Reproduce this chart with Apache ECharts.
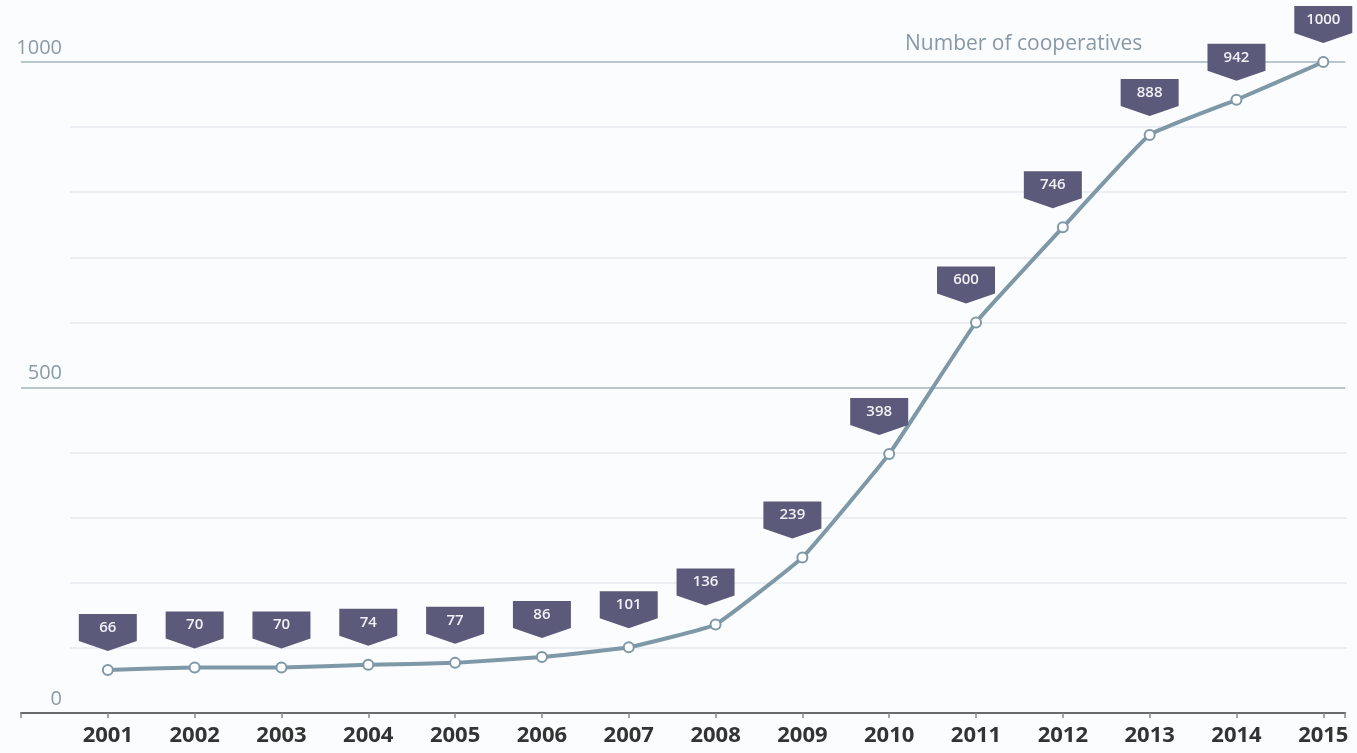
<!DOCTYPE html>
<html>
<head>
<meta charset="utf-8">
<script src="https://cdn.jsdelivr.net/npm/echarts@6/dist/echarts.min.js"></script>
<style>
html,body{margin:0;padding:0;background:#fbfcfd;}
#chart{width:1357px;height:753px;}
</style>
</head>
<body>
<div id="chart"></div>
<script>
const years = [2001, 2002, 2003, 2004, 2005, 2006, 2007, 2008, 2009, 2010, 2011, 2012, 2013, 2014, 2015];
const cooperatives = [66, 70, 70, 74, 77, 86, 101, 136, 239, 398, 600, 746, 888, 942, 1000];
const yLabelTicks = [0, 500, 1000];
const seriesName = 'Number of cooperatives';

const lineColor = '#7e98a8';
const flagColor = '#5c5a7a';
const font = '"Open Sans", "Noto Sans", sans-serif';

const points = years.map((y, i) => [y, cooperatives[i]]);
// flags shift left where the line climbs steeply, to keep them clear of it
const flagData = points.map((p, i) => {
  const next = i < cooperatives.length - 1 ? cooperatives[i + 1] : cooperatives[i];
  const steep = next - cooperatives[i] > 100;
  return { value: p, symbolOffset: [steep ? -10 : 0, -37.5] };
});

const chart = echarts.init(document.getElementById('chart'));
chart.setOption({
  backgroundColor: '#fbfcfd',
  animation: false,
  title: {
    text: seriesName,
    left: 900, top: 29,
    textStyle: { color: '#8898a6', fontSize: 21, fontWeight: 'normal', fontFamily: font }
  },
  grid: [
    { left: 21, right: 12, top: 62, bottom: 40 },
    { left: 70, right: 10, top: 62, bottom: 40 }
  ],
  xAxis: [
    {
      type: 'value', gridIndex: 0, min: 2000, max: 2015.25, interval: 1,
      axisLine: { show: true, lineStyle: { color: '#6a6a6a', width: 2 } },
      axisTick: { show: true, length: 5, lineStyle: { color: '#888', width: 1.5 } },
      splitLine: { show: false },
      axisLabel: {
        margin: 12, fontSize: 22, fontWeight: 'bold', color: '#333', fontFamily: font,
        formatter: v => (years.indexOf(v) >= 0 ? String(v) : '')
      }
    },
    { type: 'value', gridIndex: 1, min: 2000, max: 2015.25, show: false }
  ],
  yAxis: [
    {
      type: 'value', gridIndex: 1, min: 0, max: 1000, interval: 100,
      axisLine: { show: false }, axisTick: { show: false }, axisLabel: { show: false },
      splitLine: { show: true, lineStyle: { color: '#e6eaee', width: 1.5 } }
    },
    {
      type: 'value', gridIndex: 0, min: 0, max: 1000, interval: 500,
      axisLine: { show: false }, axisTick: { show: false },
      splitLine: { show: true, showMinLine: false, lineStyle: { color: '#b8c6ce', width: 2 } },
      axisLabel: {
        inside: true, align: 'right', margin: 41, verticalAlign: 'bottom', padding: [0, 0, 4, 0],
        fontSize: 20, color: '#8a9aa8', fontFamily: font,
        formatter: v => (yLabelTicks.indexOf(v) >= 0 ? String(v) : '')
      }
    }
  ],
  series: [
    {
      name: seriesName, type: 'line', xAxisIndex: 0, yAxisIndex: 1,
      data: points, smooth: 0.1,
      lineStyle: { color: lineColor, width: 4 },
      symbol: 'circle', symbolSize: 10,
      itemStyle: { color: '#ffffff', borderColor: lineColor, borderWidth: 2 },
      z: 3
    },
    {
      type: 'scatter', xAxisIndex: 0, yAxisIndex: 1,
      data: flagData,
      symbol: 'path://M0,0 L58,0 L58,27 L29,37 L0,27 Z',
      symbolSize: [58, 37],
      itemStyle: { color: flagColor, opacity: 1 },
      label: {
        show: true, position: 'inside', offset: [0, -5],
        color: '#f0f0f4', fontSize: 15, fontWeight: 600, fontFamily: font,
        formatter: p => String(p.value[1])
      },
      z: 4
    }
  ]
});
</script>
</body>
</html>
